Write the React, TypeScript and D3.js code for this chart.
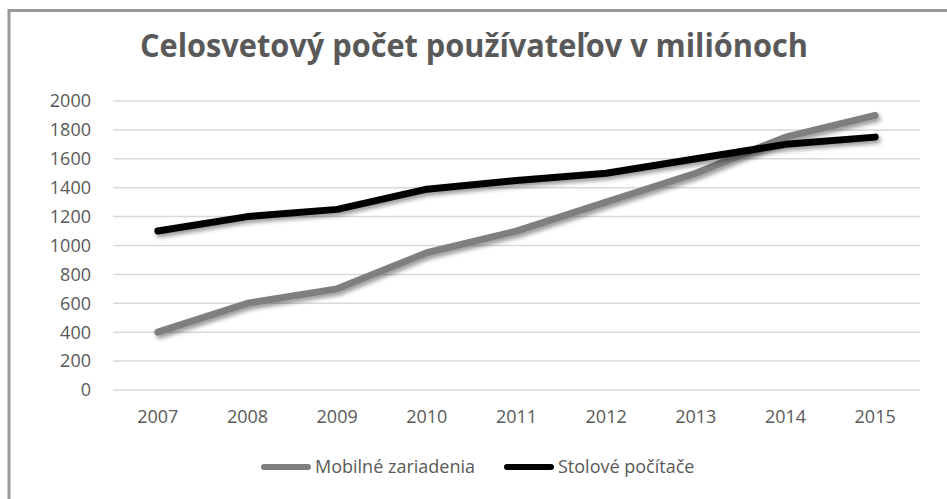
import React, { useEffect, useRef } from 'react';
import * as d3 from 'd3';

const years = ['2007', '2008', '2009', '2010', '2011', '2012', '2013', '2014', '2015'];
const mobile = [400, 600, 700, 950, 1100, 1300, 1500, 1750, 1900];
const desktop = [1100, 1200, 1250, 1390, 1450, 1500, 1600, 1700, 1750];
const yTicks = [0, 200, 400, 600, 800, 1000, 1200, 1400, 1600, 1800, 2000];
const seriesNames = ['Mobilné zariadenia', 'Stolové počítače'];
const seriesColors = ['#7f7f7f', '#000000'];
const title = 'Celosvetový počet používateľov v miliónoch';

const W = 947;
const H = 499;
const FONT = '"Open Sans", sans-serif';

const App = () => {
  const ref = useRef<SVGSVGElement>(null);

  useEffect(() => {
    const svg = d3.select(ref.current);
    svg.selectAll('*').remove();

    const left = 113, right = 920, top = 101, bottom = 390;

    const x = d3.scaleBand().domain(years).range([left, right]);
    const y = d3.scaleLinear().domain([0, 2000]).range([bottom, top]);

    const defs = svg.append('defs');
    const f = defs.append('filter').attr('id', 'shadow').attr('x', '-10%').attr('y', '-30%').attr('width', '120%').attr('height', '160%');
    f.append('feDropShadow').attr('dx', 2).attr('dy', 3).attr('stdDeviation', 2.2).attr('flood-color', '#000').attr('flood-opacity', 0.4);

    svg.append('rect').attr('width', W).attr('height', H).attr('fill', '#fff');

    // frame
    svg.append('line').attr('x1', 9).attr('x2', 9).attr('y1', 9).attr('y2', H).attr('stroke', '#999').attr('stroke-width', 3);
    svg.append('line').attr('x1', 8).attr('x2', W).attr('y1', 10.5).attr('y2', 10.5).attr('stroke', '#999').attr('stroke-width', 3);

    svg.append('text')
      .attr('x', 474).attr('y', 57)
      .attr('text-anchor', 'middle')
      .attr('font-family', FONT).attr('font-weight', 'bold').attr('font-size', 32)
      .attr('textLength', 668).attr('lengthAdjust', 'spacingAndGlyphs')
      .attr('fill', '#595959')
      .text(title);

    const grid = svg.append('g');
    yTicks.forEach((t) => {
      grid.append('line')
        .attr('x1', left).attr('x2', right)
        .attr('y1', y(t)).attr('y2', y(t))
        .attr('stroke', '#d9d9d9').attr('stroke-width', 1.5);
      grid.append('text')
        .attr('x', 91).attr('y', y(t)).attr('dy', '0.35em')
        .attr('text-anchor', 'end')
        .attr('font-family', FONT).attr('font-size', 18).attr('fill', '#595959')
        .text(t);
    });

    years.forEach((yr) => {
      svg.append('text')
        .attr('x', x(yr)! + x.bandwidth() / 2).attr('y', 423)
        .attr('text-anchor', 'middle')
        .attr('font-family', FONT).attr('font-size', 18).attr('fill', '#595959')
        .text(yr);
    });

    const line = d3.line<number>()
      .x((_, i) => x(years[i])! + x.bandwidth() / 2)
      .y((d) => y(d));

    [mobile, desktop].forEach((s, i) => {
      svg.append('path')
        .attr('d', line(s))
        .attr('fill', 'none')
        .attr('stroke', seriesColors[i])
        .attr('stroke-width', 7)
        .attr('stroke-linecap', 'round')
        .attr('stroke-linejoin', 'round')
        .attr('filter', 'url(#shadow)');
    });

    // legend
    const legendX = [264, 507];
    seriesNames.forEach((name, i) => {
      svg.append('line')
        .attr('x1', legendX[i]).attr('x2', legendX[i] + 44)
        .attr('y1', 467).attr('y2', 467)
        .attr('stroke', seriesColors[i]).attr('stroke-width', 6)
        .attr('stroke-linecap', 'round');
      svg.append('text')
        .attr('x', legendX[i] + 51).attr('y', 467).attr('dy', '0.35em')
        .attr('font-family', FONT).attr('font-size', 18).attr('fill', '#595959')
        .text(name);
    });
  }, []);

  return (
    <svg ref={ref} width={W} height={H} style={{ position: 'absolute', left: 0, top: 0 }} />
  );
};

export default App;
